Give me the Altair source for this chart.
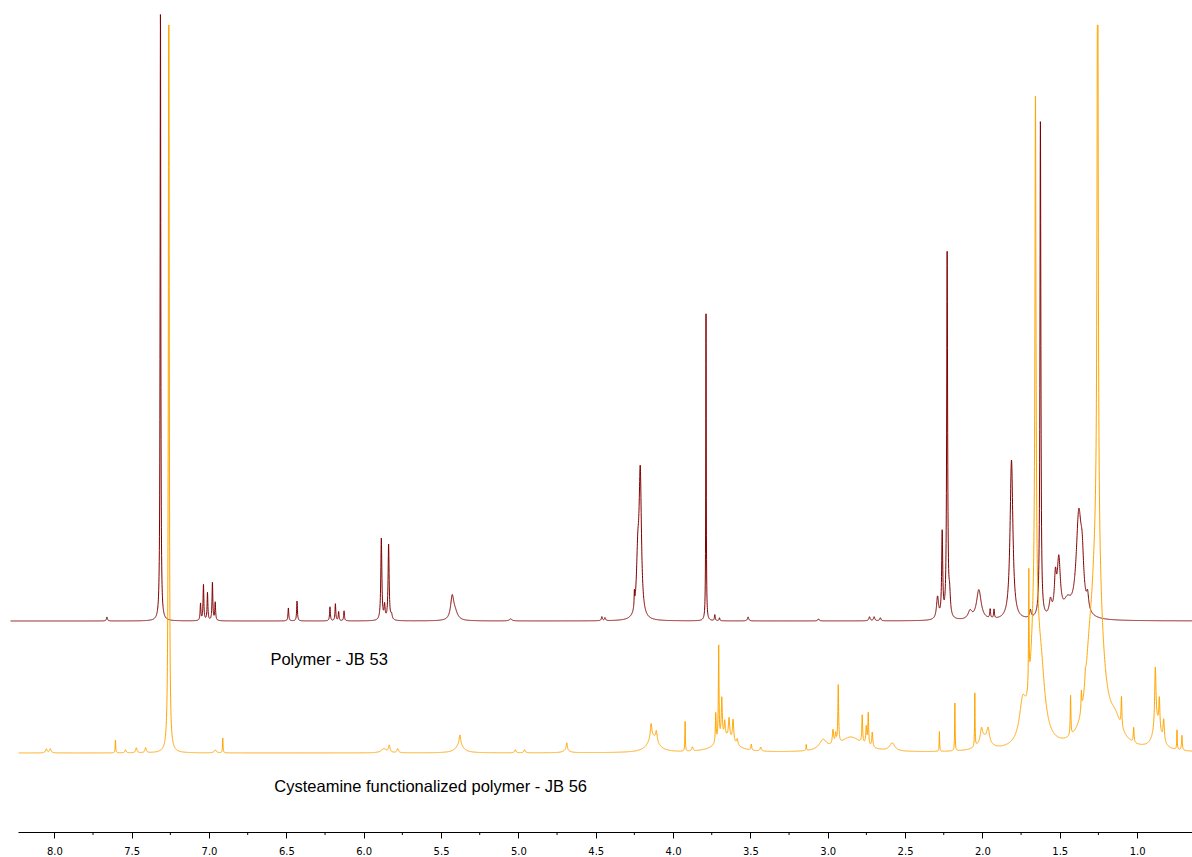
import numpy as np
import pandas as pd
import altair as alt

# Peak tables (CDCl3).
# shift in ppm, intensity in plot units above each trace's own baseline,
# half width at half maximum in ppm.
jb53_shift = [7.66, 7.314, 7.055, 7.036, 7.010, 6.978, 6.960, 6.487, 6.431,
              6.218, 6.183, 6.162, 6.127, 5.886, 5.865, 5.839, 5.820, 5.428,
              5.410, 5.050, 4.460, 4.440, 4.250, 4.228, 4.212, 3.787, 3.730,
              3.700, 3.515, 3.060, 2.730, 2.700, 2.660, 2.290, 2.260, 2.228,
              2.212, 2.080, 2.023, 1.950, 1.925, 1.812, 1.690, 1.625, 1.560,
              1.528, 1.506, 1.450, 1.377, 1.355, 1.320]
jb53_height = [4, 610, 17, 36, 28, 38, 18, 13, 20,
               14, 17, 9, 10, 82, 14, 76, 5, 22,
               8, 2, 4, 3, 15, 55, 140, 308, 6,
               3, 4, 2, 4, 4, 3, 22, 85, 365,
               20, 8, 30, 9, 9, 160, 8, 500, 15,
               35, 55, 15, 100, 40, 15]
jb53_hwhm = [0.004, 0.0026, 0.003, 0.003, 0.003, 0.003, 0.003, 0.003, 0.003,
             0.003, 0.003, 0.003, 0.003, 0.004, 0.004, 0.004, 0.005, 0.012,
             0.02, 0.01, 0.004, 0.004, 0.002, 0.01, 0.009, 0.0018, 0.003,
             0.003, 0.005, 0.005, 0.005, 0.005, 0.005, 0.008, 0.004, 0.0035,
             0.006, 0.015, 0.018, 0.003, 0.003, 0.011, 0.006, 0.0035, 0.01,
             0.008, 0.012, 0.03, 0.02, 0.012, 0.008]

jb56_shift = [8.052, 8.026, 7.605, 7.540, 7.470, 7.410, 7.260, 6.960, 6.911,
              5.870, 5.835, 5.780, 5.378, 5.380, 5.020, 4.960, 4.687, 4.690,
              4.142, 4.130, 4.108, 3.922, 3.875, 3.724, 3.705, 3.685, 3.666,
              3.638, 3.612, 3.585, 3.660, 3.494, 3.433, 3.139, 3.030, 2.966,
              2.949, 2.932, 2.850, 2.777, 2.751, 2.738, 2.712, 2.583, 2.278,
              2.178, 2.049, 2.006, 1.963, 1.990, 1.740, 1.700, 1.657, 1.660,
              1.620, 1.430, 1.360, 1.334, 1.310, 1.255, 1.260, 1.140, 1.101,
              1.022, 0.882, 0.870, 0.856, 0.828, 0.742, 0.710]
jb56_height = [4, 4, 13, 3, 5, 5, 900, 3, 15,
               4, 7, 4, 10, 8, 3, 3, 7, 3,
               15, 15, 10, 30, 4, 30, 95, 40, 15,
               20, 22, 6, 15, 6, 4, 6, 10, 15,
               10, 58, 15, 28, 18, 32, 15, 8, 20,
               48, 55, 12, 14, 12, 35, 115, 505, 130,
               50, 40, 20, 10, 40, 700, 200, 20, 30,
               15, 60, 25, 30, 22, 20, 15]
jb56_hwhm = [0.006, 0.006, 0.002, 0.005, 0.005, 0.005, 0.003, 0.008, 0.002,
             0.02, 0.006, 0.006, 0.006, 0.03, 0.005, 0.005, 0.004, 0.02,
             0.006, 0.04, 0.006, 0.0018, 0.005, 0.003, 0.0025, 0.004, 0.004,
             0.005, 0.005, 0.005, 0.07, 0.003, 0.005, 0.002, 0.03, 0.005,
             0.004, 0.003, 0.09, 0.003, 0.004, 0.003, 0.004, 0.02, 0.0018,
             0.0018, 0.0018, 0.008, 0.01, 0.04, 0.025, 0.002, 0.004, 0.03,
             0.03, 0.0025, 0.003, 0.004, 0.03, 0.004, 0.04, 0.05, 0.003,
             0.003, 0.005, 0.03, 0.004, 0.005, 0.002, 0.003]

# Acquisition windows shown for each trace (ppm)
jb53_range = (8.283, 0.645)
jb56_range = (8.231, 0.645)

# Vertical stacking of the traces and the display ceiling of the lower one
jb53_offset = 211
jb56_offset = 79
jb56_ceiling = 728

series_names = ["Polymer - JB 53", "Cysteamine functionalized polymer - JB 56"]
series_colors = ["#800000", "#FFA500"]

major_ticks = [8.0, 7.5, 7.0, 6.5, 6.0, 5.5, 5.0, 4.5, 4.0, 3.5, 3.0, 2.5, 2.0, 1.5, 1.0]
minor_ticks = [7.75, 7.25, 6.75, 6.25, 5.75, 5.25, 4.75, 4.25, 3.75, 3.25, 2.75,
               2.25, 1.75, 1.25]

STEP = 0.0007
PLOT_W, PLOT_H = 1174, 832
X_DOMAIN = [0.645, 8.235]


def spectrum(shifts, heights, widths, span):
    """Sum of Lorentzian lines sampled on a descending ppm grid."""
    ppm = np.arange(span[0], span[1] - STEP / 2, -STEP)
    s = np.asarray(shifts)[:, None]
    h = np.asarray(heights, dtype=float)[:, None]
    w = np.asarray(widths)[:, None]
    y = (h / (1.0 + ((ppm[None, :] - s) / w) ** 2)).sum(axis=0)
    return ppm, y


p53, y53 = spectrum(jb53_shift, jb53_height, jb53_hwhm, jb53_range)
p56, y56 = spectrum(jb56_shift, jb56_height, jb56_hwhm, jb56_range)
y56 = np.minimum(y56, jb56_ceiling)

traces = pd.concat([
    pd.DataFrame({"ppm": np.round(p53, 4), "value": np.round(y53 + jb53_offset, 2),
                  "sample": series_names[0]}),
    pd.DataFrame({"ppm": np.round(p56, 4), "value": np.round(y56 + jb56_offset, 2),
                  "sample": series_names[1]}),
], ignore_index=True)

x_scale = alt.Scale(domain=X_DOMAIN, reverse=True, nice=False, zero=False)
y_scale = alt.Scale(domain=[0, PLOT_H], nice=False, zero=False)

lines = alt.Chart(traces).mark_line(strokeWidth=1, interpolate="linear").encode(
    x=alt.X("ppm:Q", scale=x_scale,
            axis=alt.Axis(values=major_ticks, format=".1f", title=None, grid=False,
                          tickSize=6, tickColor="#000000", tickWidth=1,
                          domainColor="#000000", domainWidth=1,
                          labelFont="DejaVu Sans", labelFontSize=10,
                          labelColor="#000000", labelPadding=8, labelFlush=False)),
    y=alt.Y("value:Q", scale=y_scale, axis=None),
    color=alt.Color("sample:N", scale=alt.Scale(domain=series_names, range=series_colors),
                    legend=None),
    order=alt.Order("sample:N"),
)

minor = alt.Chart(pd.DataFrame({"ppm": minor_ticks})).mark_rule(
    color="#000000", strokeWidth=1
).encode(
    x=alt.X("ppm:Q", scale=x_scale),
    y=alt.value(PLOT_H),
    y2=alt.value(PLOT_H + 3),
)

labels = pd.DataFrame({
    "ppm": [6.603, 6.578],
    "value": [172, 45],
    "text": series_names,
})
captions = alt.Chart(labels).mark_text(
    align="left", baseline="middle", font="Liberation Sans", fontSize=16.5,
    color="#000000"
).encode(
    x=alt.X("ppm:Q", scale=x_scale),
    y=alt.Y("value:Q", scale=y_scale),
    text="text:N",
)

chart = alt.layer(lines, minor, captions).properties(
    width=PLOT_W,
    height=PLOT_H,
    padding={"left": 18, "top": 0, "right": 0, "bottom": 25},
    autosize=alt.AutoSizeParams(type="none"),
    background="#ffffff",
).configure_view(stroke=None)

chart.save("out.html", embed_options={"renderer": "svg", "actions": False})
